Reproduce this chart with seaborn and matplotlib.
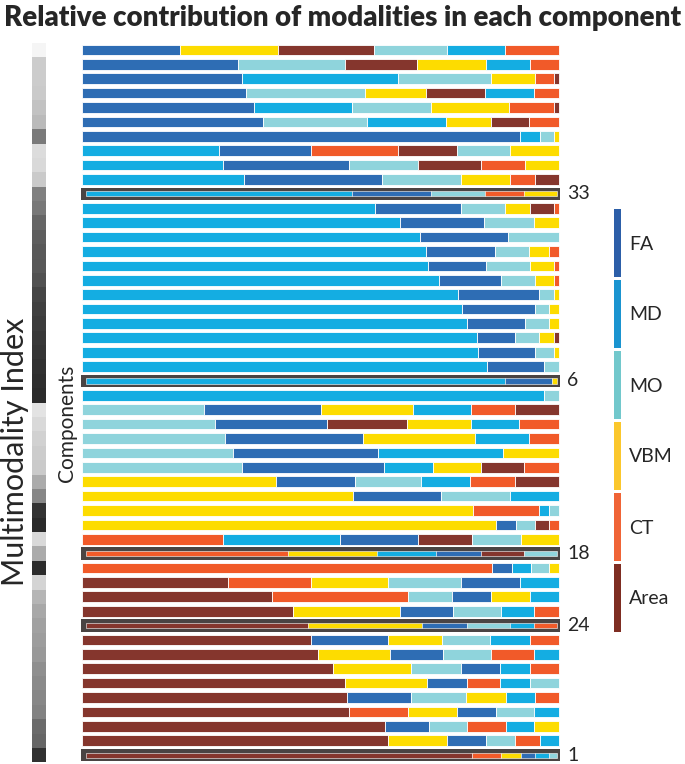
import numpy as np
import matplotlib
matplotlib.use("Agg")
import matplotlib.pyplot as plt
from matplotlib.colors import ListedColormap
import seaborn as sns

# contribution of each modality per component (top row first)
modalities = ["FA", "MD", "MO", "VBM", "CT", "Area"]
FA = [.206, .327, .336, .343, .360, .380, .919, .194, .264, .288,
      .166, .182, .176, .185, .144, .120, .131, .170, .152, .121,
      .080, .119, .121, .100, 0, .245, .236, .289, .304, .297,
      .166, .185, 0, .042, .164, .094, .042, .123, .083, .112,
      .095, .162, .111, .083, .082, .134, .081, .091, .080, .031]
MD = [.121, .093, .327, .104, .206, .164, .041, .286, .296, .340,
      .566, .613, .667, .709, .722, .726, .748, .789, .797, .807,
      .828, .830, .848, .890, .969, .122, .102, .113, .262, .102,
      .103, .103, .021, 0, .245, .125, .040, .082, .060, .069,
      .052, .083, .052, .062, .062, .060, .052, .059, .040, .029]
MO = [.154, .224, .194, .251, .166, .218, .030, .112, .145, .166,
      .115, .092, .105, .106, .071, .094, .070, .031, .031, .052,
      .051, .041, .031, 0, .031, .255, .278, .299, .317, .336,
      .138, .145, .020, .041, .103, .070, .039, .154, .091, .101,
      .092, .101, .101, .104, .061, .115, .080, .081, .062, .017]
VBM = [.204, .143, .093, .126, .164, .095, .010, .102, .071, .103,
       .070, .052, .052, 0, .042, .050, .041, .010, .020, .020,
       .031, .010, 0, .010, 0, .193, .134, .236, .117, .101,
       .406, .567, .819, .867, .080, .189, .020, .162, .082, .223,
       .242, .113, .152, .164, .173, .084, .103, .053, .124, .042]
CT = [.113, .061, .040, .052, .094, .063, 0, .183, .092, .052,
      .083, .010, 0, 0, .021, .010, .010, 0, 0, 0,
      0, 0, 0, 0, 0, .093, .083, .063, 0, .073,
      .094, 0, .140, .021, .296, .430, .859, .173, .285, .052,
      .048, .061, .090, .061, .071, .051, .124, .080, .052, .061]
Area = [.202, .152, .010, .124, .010, .080, 0, .123, .132, .051,
        0, .051, 0, 0, 0, 0, 0, 0, 0, 0,
        .010, 0, 0, 0, 0, .092, .167, 0, 0, .091,
        .093, 0, 0, .029, .112, .092, 0, .306, .399, .443,
        .471, .480, .494, .526, .551, .556, .560, .636, .642, .820]

# multimodality index shown as grey level (0 = black, 1 = white)
multimodality = [.96, .80, .80, .79, .76, .73, .48, .86, .85, .79,
                 .50, .47, .40, .37, .35, .345, .32, .27, .25, .235,
                 .22, .21, .195, .18, .17, .89, .85, .82, .80, .79,
                 .67, .53, .20, .165, .85, .67, .175, .83, .71, .66,
                 .63, .615, .60, .56, .54, .53, .51, .42, .40, .195]

highlight_rows = [10, 23, 35, 40, 49]
highlight_labels = ["33", "6", "18", "24", "1"]

bar_colors = {"FA": "#2e6db4", "MD": "#14ade2", "MO": "#8fd4dc",
              "VBM": "#fddc00", "CT": "#f15a29", "Area": "#85362d"}
legend_colors = ["#2c5ea8", "#1a94d0", "#72c8cc", "#fbc72c", "#f06436", "#7e2d22"]

sns.set_style("white")
plt.rcParams["font.family"] = ["Lato", "DejaVu Sans"]

data = np.array([FA, MD, MO, VBM, CT, Area]).T
n = len(data)

fig = plt.figure(figsize=(6.85, 7.64), dpi=100)
W, H = 685, 764
ax_bottom = 1 - 762.3 / H
ax_height = 719.5 / H

# stacked bars, largest contribution first
ax = fig.add_axes([77.5 / W, ax_bottom, 486.3 / W, ax_height])
for i in range(n):
    order = np.argsort(-data[i], kind="stable")
    if i in highlight_rows:
        ax.barh(i, 1.006, left=-0.003, height=0.88, color="#4a4443", linewidth=0)
        scale, start, h, lw = 0.989, 0.007, 0.36, 0.4
    else:
        scale, start, h, lw = 1.0, 0.0, 0.74, 0.6
    left = start
    for j in order:
        w = data[i, j] * scale
        if w <= 0:
            continue
        ax.barh(i, w, left=left, height=h, color=bar_colors[modalities[j]],
                edgecolor="white", linewidth=lw)
        left += w
for r, lab in zip(highlight_rows, highlight_labels):
    ax.text(1.017, r, lab, va="center", ha="left", fontsize=14, clip_on=False)
ax.set_xlim(-0.01, 1.01)
ax.set_ylim(n - 0.5, -0.5)
ax.axis("off")

# multimodality strip
ax2 = fig.add_axes([32 / W, ax_bottom, 14 / W, ax_height])
sns.heatmap(np.array(multimodality).reshape(-1, 1), cmap="gray", vmin=0, vmax=1,
            cbar=False, xticklabels=False, yticklabels=False, ax=ax2)

fig.text(15 / W, 1 - 452 / H, "Multimodality Index", rotation=90,
         ha="center", va="center", fontsize=22)
fig.text(67 / W, 1 - 423 / H, "Components", rotation=90,
         ha="center", va="center", fontsize=15)

# modality legend as a colour column
ax3 = fig.add_axes([612 / W, 1 - 633 / H, 10 / W, 426 / H])
sns.heatmap(np.arange(6).reshape(-1, 1), cmap=ListedColormap(legend_colors),
            cbar=False, linewidths=0.8, linecolor="white",
            xticklabels=False, yticklabels=modalities, ax=ax3)
ax3.yaxis.tick_right()
ax3.tick_params(axis="y", length=0, pad=5, labelsize=14)
plt.setp(ax3.get_yticklabels(), rotation=0)

title = fig.text(0.5, 1 - 18 / H, "Relative contribution of modalities in each component",
                 ha="center", va="center", fontsize=18, fontweight="heavy")
fig.canvas.draw()
bb = title.get_window_extent()
title.set_fontsize(18 * 675 / bb.width)

fig.savefig("out.png", dpi=100)
